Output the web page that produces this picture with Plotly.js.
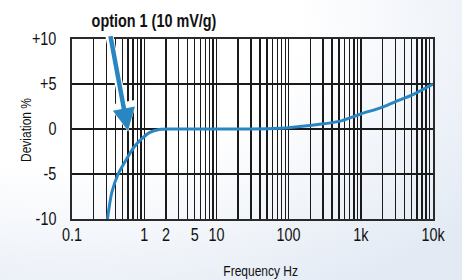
<!DOCTYPE html>
<html>
<head>
<meta charset="utf-8">
<script src="https://cdn.plot.ly/plotly-3.0.1.min.js"></script>
<style>html,body{margin:0;padding:0;background:#fff;}#chart{width:462px;height:280px;}</style>
</head>
<body>
<div id="chart"></div>
<script>
// Frequency (Hz) and deviation (%)
var freqHz = [0.31, 0.357, 0.436, 0.555, 0.724, 0.92, 1.18, 1.62, 2.65, 5, 10, 30, 60, 100, 254, 500, 1000, 2000, 3400, 5000, 10000];
var deviationPct = [-10, -7.0, -5.0, -3.5, -2.0, -1.1, -0.4, -0.05, 0, 0, 0, 0, 0.05, 0.15, 0.5, 0.85, 1.67, 2.44, 3.2, 3.74, 5.0];

var xTickVals = [0.1, 1, 2, 5, 10, 100, 1000, 10000];
var xTickText = ['0.1', '1', '2', '5', '10', '100', '1k', '10k'];
var yTickVals = [-10, -5, 0, 5, 10];
var yTickText = ['-10', '-5', '0', '+5', '+10'];

var seriesLabel = 'option 1 (10 mV/g)';
var arrowTarget = {freq: 0.6, dev: -0.3};

var FONT = '"Liberation Sans", Arial, sans-serif';
var NARROW = 0.8;
var W = 462, H = 280, L = 72, R = 29, T = 39, B = 61;
var pw = W - L - R, ph = H - T - B;

var svg = '<svg xmlns="http://www.w3.org/2000/svg" width="462" height="280">' +
  '<defs><radialGradient id="g" cx="0.15" cy="0.1" r="1.1">' +
  '<stop offset="0.45" stop-color="#ffffff"/><stop offset="1" stop-color="#e3eaf4"/></radialGradient></defs>' +
  '<rect width="462" height="280" fill="url(#g)"/></svg>';

var trace = {
  x: freqHz, y: deviationPct, type: 'scatter', mode: 'lines',
  line: {color: '#2a86c1', width: 3, shape: 'spline', smoothing: 0.8},
  hoverinfo: 'skip', showlegend: false
};

var layout = {
  width: W, height: H,
  margin: {l: L, r: R, t: T, b: B, pad: 0},
  paper_bgcolor: '#ffffff',
  plot_bgcolor: '#dde4f0',
  font: {family: FONT, color: '#111', size: 18},
  showlegend: false,
  images: [{
    source: 'data:image/svg+xml;charset=utf-8,' + encodeURIComponent(svg),
    xref: 'paper', yref: 'paper',
    x: -L / pw, y: 1 + T / ph, sizex: W / pw, sizey: H / ph,
    xanchor: 'left', yanchor: 'top', sizing: 'stretch', layer: 'below'
  }],
  xaxis: {
    type: 'log', range: [-1, 4],
    tickmode: 'array', tickvals: xTickVals, ticktext: xTickText,
    ticks: '', ticklabelstandoff: -2,
    showgrid: true, gridcolor: '#1a1a1a', gridwidth: 1.4,
    minor: {dtick: 'D1', showgrid: true, gridcolor: '#1a1a1a', gridwidth: 1.4, ticks: ''},
    showline: true, linecolor: '#2a2a2a', linewidth: 2, mirror: true,
    zeroline: false, fixedrange: true,
    tickfont: {family: FONT, size: 18, color: '#111'}
  },
  yaxis: {
    range: [-10, 10],
    tickmode: 'array', tickvals: yTickVals, ticktext: yTickText,
    ticks: '', ticklabelstandoff: 10,
    showgrid: true, gridcolor: '#1a1a1a', gridwidth: 1.4,
    showline: true, linecolor: '#2a2a2a', linewidth: 2, mirror: true,
    zeroline: false, fixedrange: true,
    tickfont: {family: FONT, size: 18, color: '#111'}
  },
  annotations: [
    {
      xref: 'paper', yref: 'paper', x: (260 - L) / pw, y: -(270 - T - ph) / ph,
      text: 'Frequency Hz', showarrow: false, xanchor: 'center', yanchor: 'middle',
      font: {family: FONT, size: 15, color: '#111'}
    },
    {
      xref: 'paper', yref: 'paper', x: (25 - L) / pw, y: 1 - (130 - T) / ph,
      text: 'Deviation %', showarrow: false, textangle: -90, xanchor: 'center', yanchor: 'middle',
      font: {family: FONT, size: 15, color: '#111'}
    },
    {
      xref: 'paper', yref: 'paper', x: (153.5 - L) / pw, y: 1 + (T - 21) / ph,
      text: seriesLabel, showarrow: false, xanchor: 'center', yanchor: 'middle',
      font: {family: FONT, size: 18, color: '#111', weight: 'bold'}
    },
    {
      xref: 'x', yref: 'y', x: Math.log10(arrowTarget.freq), y: arrowTarget.dev,
      text: '', showarrow: true, ax: -19, ay: -97,
      arrowcolor: '#ffffff', arrowwidth: 8, arrowhead: 2, arrowsize: 0.75, standoff: 0
    },
    {
      xref: 'x', yref: 'y', x: Math.log10(arrowTarget.freq), y: arrowTarget.dev,
      text: '', showarrow: true, ax: -18, ay: -97,
      arrowcolor: '#2a86c1', arrowwidth: 4.5, arrowhead: 2, arrowsize: 1, standoff: 1
    }
  ]
};

Plotly.newPlot('chart', [trace], layout, {staticPlot: true, displayModeBar: false}).then(function () {
  // Mimic the condensed face of the original by narrowing the real text glyphs
  document.querySelectorAll('#chart svg text').forEach(function (t) {
    var w = t.getComputedTextLength();
    if (w > 0) {
      t.setAttribute('textLength', (w * NARROW).toFixed(2));
      t.setAttribute('lengthAdjust', 'spacingAndGlyphs');
    }
  });
});
</script>
</body>
</html>
